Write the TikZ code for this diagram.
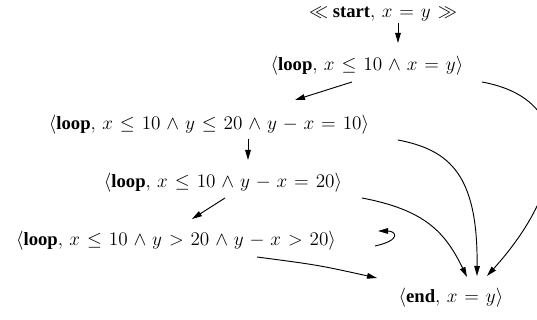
\documentclass[tikz,border=0pt]{standalone}
\usepackage[no-math]{fontspec}
\setmainfont{Liberation Serif}
\usetikzlibrary{arrows.meta}
\tikzset{
  st/.style={inner sep=0pt, text height=10pt, text depth=3.5pt, anchor=center,
    font=\fontsize{14}{16}\selectfont},
  arr/.style={line width=0.7pt, -{Triangle[length=7.5pt,width=4.2pt]}},
}
\begin{document}
\begin{tikzpicture}[x=0.75pt,y=-0.75pt]
\useasboundingbox (0,0) rectangle (537,320);
\thickmuskip=6.5mu \medmuskip=5.5mu
\node[st] (s)  at (383,13)  {$\ll$ \textbf{start}$,\,x=y\gg$};
\node[st] (l1) at (367,66)  {$\langle$\textbf{loop}$,\,x\leq 10\wedge x=y\rangle$};
\node[st] (l2) at (209,125) {$\langle$\textbf{loop}$,\,x\leq 10\wedge y\leq 20\wedge y-x=10\rangle$};
\node[st] (l3) at (223,183) {$\langle$\textbf{loop}$,\,x\leq 10\wedge y-x=20\rangle$};
\node[st] (l4) at (176,241) {$\langle$\textbf{loop}$,\,x\leq 10\wedge y>20\wedge y-x>20\rangle$};
\node[st] (e)  at (451,298) {$\langle$\textbf{end}$,\,x=y\rangle$};

\draw[arr] ([shift={(15,10)}]s.center) -- ([shift={(31,-23)}]l1.center);
\draw[arr] ([shift={(-15,16)}]l1.center) -- ([shift={(86,-25)}]l2.center);
\draw[arr] ([shift={(39,14)}]l2.center) -- ([shift={(25,-23)}]l3.center);
\draw[arr] ([shift={(2,15)}]l3.center) -- ([shift={(16,-22)}]l4.center);
\draw[arr] ([shift={(81,16)}]l4.center) .. controls (318,265) .. ([shift={(-74,-20)}]e.center);
\draw[arr] ([shift={(199,5)}]l4.center) .. controls (402,240) and (396,231) .. ([shift={(202,-10)}]l4.center);
\draw[arr] ([shift={(115,16)}]l1.center) .. controls (580,100) and (565,190) .. ([shift={(36,-22)}]e.center);
\draw[arr] ([shift={(189,15)}]l2.center) .. controls (450,150) and (478,175) .. ([shift={(26,-22)}]e.center);
\draw[arr] ([shift={(139,15)}]l3.center) .. controls (425,210) and (445,232) .. ([shift={(16,-21)}]e.center);
\end{tikzpicture}
\end{document}
